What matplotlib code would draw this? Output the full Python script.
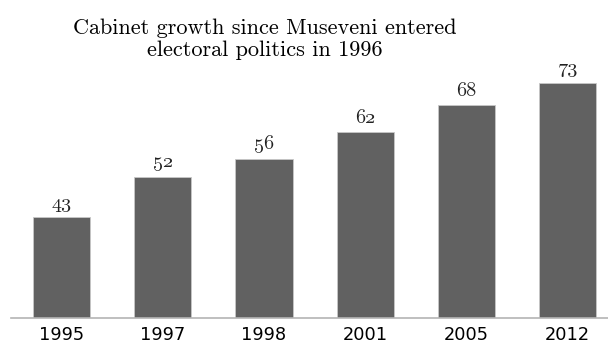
import matplotlib
matplotlib.use("Agg")
import matplotlib.pyplot as plt

years = ["1995", "1997", "1998", "2001", "2005", "2012"]
cabinet_size = [43, 52, 56, 62, 68, 73]

plt.rcParams["axes.formatter.use_mathtext"] = True

fig = plt.figure(figsize=(6.08, 3.46), dpi=100)
ax = fig.add_axes([11 / 608, 28 / 346, 597 / 608, 0.77])

x = range(len(years))
bars = ax.bar(x, cabinet_size, width=0.565, color="#616161",
              edgecolor="#c8c8c8", linewidth=0.6)

# value labels in oldstyle figures
for b, v in zip(bars, cabinet_size):
    ax.text(b.get_x() + b.get_width() / 2, v + 2.1, str(v),
            ha="center", va="baseline", family="cmmi10", fontsize=14.5,
            color="#222222")

ax.set_xlim(-0.5, 5.4)
ax.set_ylim(20.4, 80)
ax.set_xticks(list(x))
ax.set_xticklabels(years, family="DejaVu Sans", fontsize=12.8)
ax.tick_params(axis="x", length=0, pad=6)
ax.set_yticks([])
for side in ["top", "left", "right"]:
    ax.spines[side].set_visible(False)
ax.spines["bottom"].set_color("#b4b4b4")
ax.spines["bottom"].set_linewidth(1.2)

fig.text(265 / 608, 1 - 34 / 346, "Cabinet growth since Museveni entered",
         ha="center", va="baseline", family="cmr10", fontsize=16)
fig.text(265 / 608, 1 - 56 / 346, "electoral politics in 1996",
         ha="center", va="baseline", family="cmr10", fontsize=16)

fig.savefig("out.png", dpi=100)
